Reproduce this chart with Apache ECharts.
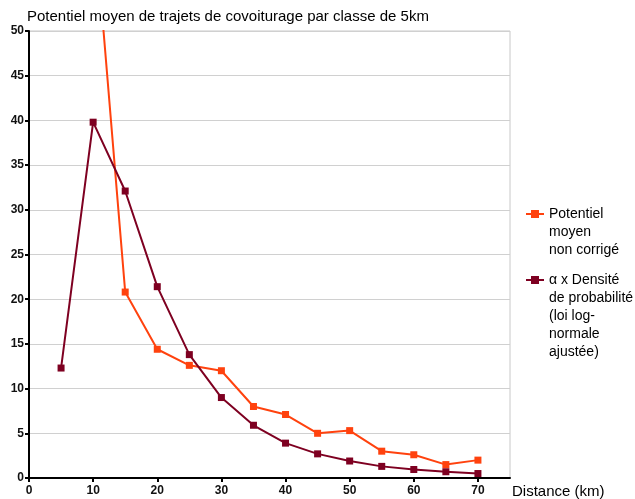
<!DOCTYPE html>
<html>
<head>
<meta charset="utf-8">
<script src="https://cdn.jsdelivr.net/npm/echarts@6/dist/echarts.min.js"></script>
<style>
  html, body { margin: 0; padding: 0; background: #fff; }
</style>
</head>
<body>
<div id="main" style="width: 635px; height: 499px;"></div>

<script type="text/javascript">
    // données
    var distances = [5, 10, 15, 20, 25, 30, 35, 40, 45, 50, 55, 60, 65, 70];
    var potentielMoyen = [null, 64, 20.8, 14.4, 12.6, 12.0, 8.0, 7.1, 5.0, 5.3, 3.0, 2.6, 1.5, 2.0];
    var densiteLogNormale = [12.3, 39.8, 32.1, 21.4, 13.8, 9.0, 5.9, 3.9, 2.7, 1.9, 1.3, 0.95, 0.7, 0.5];
    var xTicks = [0, 10, 20, 30, 40, 50, 60, 70];
    var nomSerie1 = 'Potentiel\nmoyen\nnon corrigé';
    var nomSerie2 = 'α x Densité\nde probabilité\n(loi log-\nnormale\najustée)';

    var myChart = echarts.init(document.getElementById('main'));

    function toPairs(vals) {
        var out = [];
        for (var i = 0; i < distances.length; i++) {
            if (vals[i] != null) out.push([distances[i], vals[i]]);
        }
        return out;
    }

    // l'icône de légende est centrée sur le bloc de texte : on ajoute des lignes vides
    // au-dessus pour que l'icône tombe sur la première ligne
    function aligneHaut(name) {
        var n = name.split('\n').length;
        return new Array(n).join('\n') + name;
    }

    var police = 'Liberation Sans, Arial, sans-serif';
    var lineH = 18;

    var legendeBase = {
        left: 525, padding: 0,
        itemWidth: 18, itemHeight: 10,
        formatter: aligneHaut,
        textStyle: { fontSize: 14, color: '#000', lineHeight: lineH, fontFamily: police }
    };

    var option = {
        animation: false,
        textStyle: { fontFamily: police },
        title: {
            text: 'Potentiel moyen de trajets de covoiturage par classe de 5km',
            left: 27,
            top: 9,
            padding: 0,
            textStyle: { fontSize: 15, fontWeight: 'normal', color: '#000', fontFamily: police }
        },
        grid: {
            left: 29, right: 125, top: 31, bottom: 21,
            show: true, borderColor: '#c8c8c8', borderWidth: 1
        },
        legend: [
            echarts.util.extend({ data: [nomSerie1], top: 169 }, legendeBase),
            echarts.util.extend({ data: [nomSerie2], top: 199 }, legendeBase)
        ],
        xAxis: {
            type: 'value',
            min: 0, max: 75, interval: 10,
            name: 'Distance (km)',
            nameLocation: 'end',
            nameGap: 2,
            nameTextStyle: { fontSize: 15, color: '#000', align: 'left', verticalAlign: 'top', padding: [6, 0, 0, 0], fontFamily: police },
            axisLine: { lineStyle: { color: '#000', width: 2 } },
            axisTick: { show: true, length: 4, lineStyle: { color: '#000', width: 2 }, customValues: xTicks },
            axisLabel: { fontSize: 12, fontWeight: 'bold', color: '#111', margin: 7, customValues: xTicks },
            splitLine: { show: false }
        },
        yAxis: {
            type: 'value',
            min: 0, max: 50, interval: 5,
            axisLine: { show: true, lineStyle: { color: '#000', width: 2 } },
            axisTick: { show: true, length: 4, lineStyle: { color: '#000', width: 2 } },
            axisLabel: { fontSize: 12, fontWeight: 'bold', color: '#111', margin: 5 },
            splitLine: { show: true, lineStyle: { color: '#d0d0d0', width: 1 } }
        },
        series: [{
            name: nomSerie1,
            type: 'line',
            data: toPairs(potentielMoyen),
            color: '#ff420e',
            symbol: 'rect',
            symbolSize: 7,
            lineStyle: { width: 2 },
            clip: true
        }, {
            name: nomSerie2,
            type: 'line',
            data: toPairs(densiteLogNormale),
            color: '#7e0021',
            symbol: 'rect',
            symbolSize: 7,
            lineStyle: { width: 2 },
            clip: true
        }]
    };

    myChart.setOption(option);
</script>
</body>
</html>
